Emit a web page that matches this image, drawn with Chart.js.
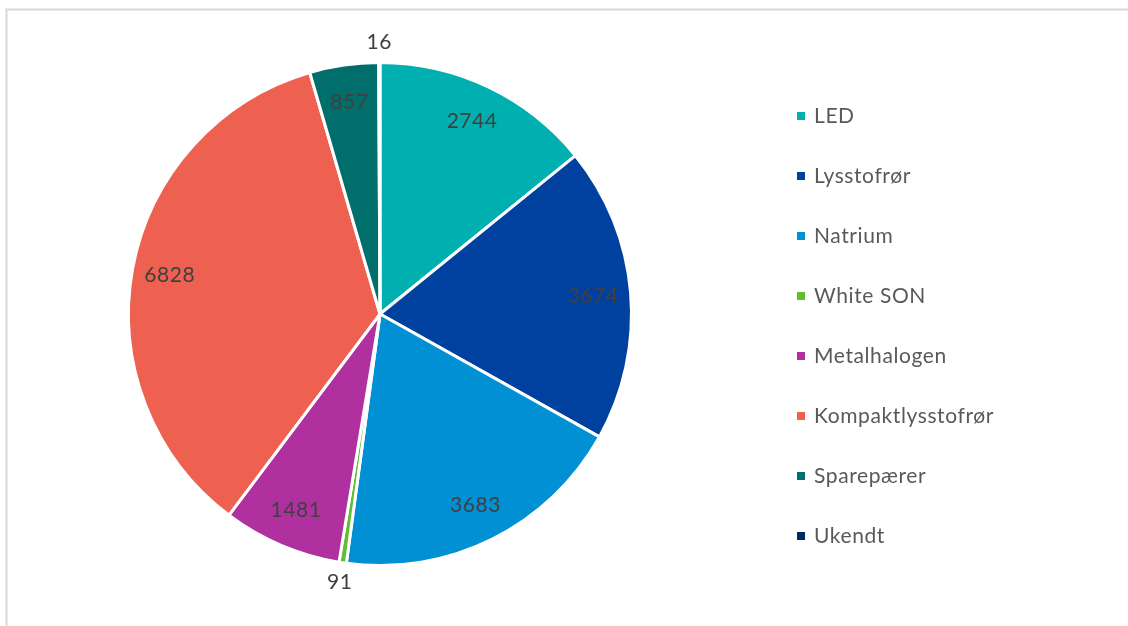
<!DOCTYPE html>
<html>
<head>
<meta charset="utf-8">
<script src="https://cdn.jsdelivr.net/npm/chart.js@4.4.0/dist/chart.umd.min.js"></script>
<style>
  html, body { margin: 0; padding: 0; background: #fff; }
  #wrap { width: 1128px; height: 626px; position: relative; }
</style>
</head>
<body>
<div id="wrap"><canvas id="lampChart" width="1128" height="626"></canvas></div>
<script>
// Lamp types pie

const labels = ["LED", "Lysstofrør", "Natrium", "White SON", "Metalhalogen", "Kompaktlysstofrør", "Sparepærer", "Ukendt"];
const counts = [2744, 3674, 3683, 91, 1481, 6828, 857, 16];
const colors = ["#00b0b0", "#0041a0", "#0090d3", "#5fbe32", "#b030a0", "#ee6150", "#006e6a", "#002b62"];
const outsideLabels = ["White SON", "Ukendt"];

const fontFamily = "Lato, 'Open Sans', sans-serif";

// light frame round the chart
const framePlugin = {
  id: 'frame',
  beforeDraw(chart) {
    const ctx = chart.ctx;
    ctx.save();
    ctx.strokeStyle = '#d9d9d9';
    ctx.lineWidth = 2;
    ctx.beginPath();
    ctx.moveTo(6.5, 626);
    ctx.lineTo(6.5, 9.5);
    ctx.lineTo(1128, 9.5);
    ctx.stroke();
    ctx.restore();
  }
};

// value labels on the slices
const valueLabels = {
  id: 'valueLabels',
  afterDatasetsDraw(chart) {
    const ctx = chart.ctx;
    const meta = chart.getDatasetMeta(0);
    ctx.save();
    ctx.font = "21px " + fontFamily;
    ctx.letterSpacing = '0.5px';
    ctx.textAlign = 'center';
    ctx.textBaseline = 'middle';
    meta.data.forEach((arc, i) => {
      const p = arc.getProps(['x', 'y', 'startAngle', 'endAngle', 'outerRadius'], true);
      const mid = (p.startAngle + p.endAngle) / 2;
      const outside = outsideLabels.includes(labels[i]);
      const r = outside ? p.outerRadius + 20 : p.outerRadius * 0.85;
      ctx.fillStyle = '#404040';
      ctx.fillText(String(counts[i]), p.x + Math.cos(mid) * r, p.y + Math.sin(mid) * r);
    });
    ctx.restore();
  }
};

// legend on the right
const sideLegend = {
  id: 'sideLegend',
  afterDraw(chart) {
    const ctx = chart.ctx;
    ctx.save();
    ctx.font = "21px " + fontFamily;
    ctx.letterSpacing = '0.6px';
    ctx.textBaseline = 'middle';
    ctx.textAlign = 'left';
    labels.forEach((name, i) => {
      const y = 116 + i * 60;
      ctx.fillStyle = colors[i];
      ctx.fillRect(797, y - 4, 8, 8);
      ctx.fillStyle = '#595959';
      ctx.fillText(name, 814, y);
    });
    ctx.restore();
  }
};

let lampCanvas = document.getElementById("lampChart");

let lampChart = new Chart(lampCanvas, {
  type: 'pie',
  data: {
    labels: labels,
    datasets: [{
      data: counts,
      backgroundColor: colors,
      borderColor: '#ffffff',
      borderWidth: 3,
      hoverOffset: 0
    }]
  },
  options: {
    responsive: false,
    animation: false,
    layout: {
      padding: { top: 61, bottom: 59, left: 127, right: 495 }
    },
    plugins: {
      legend: { display: false },
      tooltip: { enabled: false }
    }
  },
  plugins: [framePlugin, valueLabels, sideLegend]
});
</script>
</body>
</html>
